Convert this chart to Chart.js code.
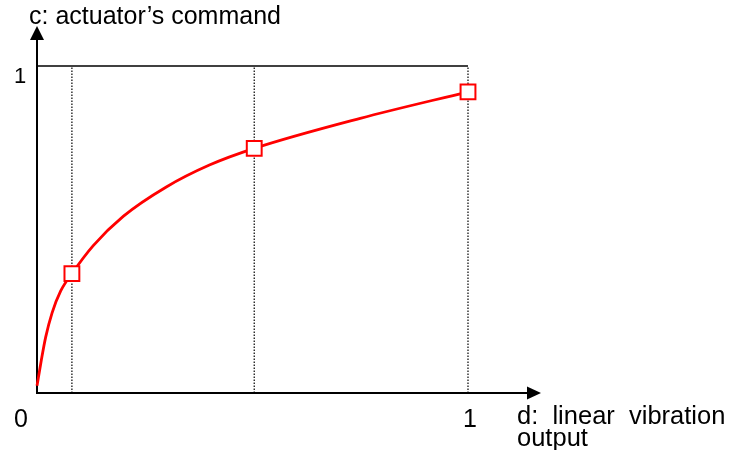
<!DOCTYPE html>
<html><head><meta charset="utf-8">
<script src="https://cdn.jsdelivr.net/npm/chart.js@4/dist/chart.umd.min.js"></script>
<style>html,body{margin:0;padding:0;background:#fff}canvas{display:block}</style>
</head><body>
<canvas id="c" width="729" height="450"></canvas>
<script>
// ---- data ----
const curveX = [0, 0.01, 0.02, 0.035, 0.055, 0.081, 0.13, 0.2, 0.3, 0.4, 0.504, 0.75, 1.0];
const curveY = [0.022, 0.10, 0.17, 0.245, 0.312, 0.365, 0.450, 0.540, 0.630, 0.697, 0.748, 0.840, 0.921];
const markerX = [0.081, 0.504, 1.0];
const markerY = [0.365, 0.748, 0.921];
const xTickValues = [0, 1];
const xTickLabels = ['0', '1'];
const yTickValues = [1];
const yTickLabels = ['1'];
const yAxisTitle = 'c: actuator\u2019s command';
const xAxisTitle = ['d:  linear  vibration', 'output'];

const FONT = '"Liberation Sans", Arial, sans-serif';

const curveData = curveX.map((v, i) => ({x: v, y: curveY[i]}));
const markerData = markerX.map((v, i) => ({x: v, y: markerY[i]}));

const guideSets = markerX.map(v => ({
  type: 'line',
  data: [{x: v, y: 0}, {x: v, y: 1}],
  borderColor: '#000',
  borderWidth: 1.2,
  borderDash: [1.5, 1.5],
  pointRadius: 0,
  clip: false
}));

const deco = {
  id: 'deco',
  beforeDatasetsDraw(chart) {
    const {ctx, scales: {x, y}} = chart;
    const x0 = x.getPixelForValue(0), y0 = y.getPixelForValue(0);
    const x1 = x.getPixelForValue(1), y1 = y.getPixelForValue(1);
    ctx.save();
    ctx.strokeStyle = '#000';
    ctx.fillStyle = '#000';
    ctx.lineWidth = 2;
    // y axis
    ctx.beginPath(); ctx.moveTo(x0, y0 + 1); ctx.lineTo(x0, y1 - 28); ctx.stroke();
    ctx.beginPath();
    ctx.moveTo(x0, y1 - 40); ctx.lineTo(x0 - 7, y1 - 26); ctx.lineTo(x0 + 7, y1 - 26); ctx.closePath(); ctx.fill();
    // x axis
    ctx.beginPath(); ctx.moveTo(x0 - 1, y0); ctx.lineTo(x1 + 60, y0); ctx.stroke();
    ctx.beginPath();
    ctx.moveTo(x1 + 73, y0); ctx.lineTo(x1 + 59, y0 - 6.5); ctx.lineTo(x1 + 59, y0 + 6.5); ctx.closePath(); ctx.fill();
    ctx.restore();
  },
  afterDatasetsDraw(chart) {
    const {ctx, scales: {x, y}} = chart;
    const x0 = x.getPixelForValue(0), y0 = y.getPixelForValue(0);
    ctx.save();
    ctx.fillStyle = '#000';
    ctx.textBaseline = 'alphabetic';
    // tick labels
    ctx.font = '25px ' + FONT;
    ctx.textAlign = 'center';
    xTickValues.forEach((v, i) => {
      const px = v === 0 ? x0 - 16 : x.getPixelForValue(v) + 2;
      ctx.fillText(xTickLabels[i], px, y0 + 34);
    });
    ctx.font = '22px ' + FONT;
    yTickValues.forEach((v, i) => {
      ctx.fillText(yTickLabels[i], x0 - 17, y.getPixelForValue(v) + 17);
    });
    // axis titles
    ctx.font = '25px ' + FONT;
    ctx.textAlign = 'left';
    ctx.fillText(yAxisTitle, 29, 24);
    ctx.font = '25.5px ' + FONT;
    ctx.fillText(xAxisTitle[0], 517, 424);
    ctx.fillText(xAxisTitle[1], 517, 446);
    ctx.restore();
  }
};

new Chart(document.getElementById('c'), {
  type: 'line',
  data: {
    datasets: [
      {
        data: markerData,
        showLine: false,
        pointStyle: 'rect',
        pointRadius: 10.5,
        pointHoverRadius: 10.5,
        pointBorderWidth: 2,
        pointBorderColor: '#ff0000',
        pointBackgroundColor: '#ffffff',
        clip: false
      },
      {
        data: curveData,
        borderColor: '#ff0000',
        borderWidth: 2.8,
        pointRadius: 0,
        cubicInterpolationMode: 'monotone',
        fill: false,
        clip: false
      },
      {
        data: [{x: 0, y: 1}, {x: 1, y: 1}],
        borderColor: '#000',
        borderWidth: 1.5,
        pointRadius: 0,
        clip: false
      },
      ...guideSets
    ]
  },
  options: {
    responsive: false,
    devicePixelRatio: 1,
    animation: false,
    events: [],
    layout: {padding: {left: 37, right: 261, top: 66, bottom: 57}},
    plugins: {legend: {display: false}, tooltip: {enabled: false}},
    scales: {
      x: {type: 'linear', min: 0, max: 1, display: false},
      y: {type: 'linear', min: 0, max: 1, display: false}
    }
  },
  plugins: [deco]
});
</script>
</body></html>
